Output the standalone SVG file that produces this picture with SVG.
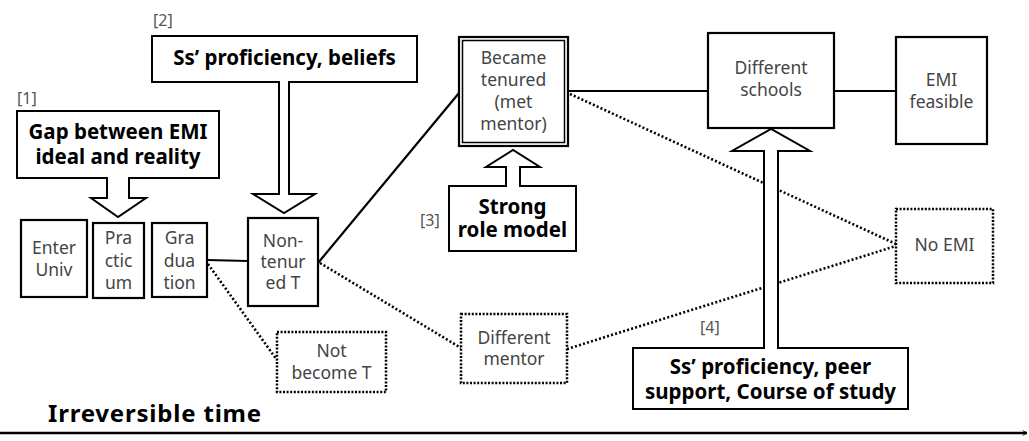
<svg xmlns="http://www.w3.org/2000/svg" width="1029" height="441" viewBox="0 0 1029 441">
<defs>
<style>
.box{fill:#fff;stroke:#000;stroke-width:2.2}
.dbox{fill:#fff;stroke:#000;stroke-width:2.5;stroke-dasharray:2 1.6}
.ln{fill:none;stroke:#000;stroke-width:2.2}
.dl{fill:none;stroke:#000;stroke-width:2.6;stroke-dasharray:2 2.2}
.blk{fill:#fff;stroke:#000;stroke-width:2}
.t{font-family:"Noto Sans","Liberation Sans",sans-serif;font-size:17.5px;fill:#444;text-anchor:middle}
.b{font-family:"Noto Sans","Liberation Sans",sans-serif;font-size:20.5px;fill:#000;text-anchor:middle;font-weight:bold}
.lab{font-family:"Noto Sans","Liberation Sans",sans-serif;font-size:16px;fill:#555}
</style>
<marker id="chev" viewBox="0 0 10 10" refX="9" refY="5" markerWidth="6" markerHeight="6" orient="auto" markerUnits="userSpaceOnUse">
<path d="M2,1 L9,5 L2,9" fill="none" stroke="#000" stroke-width="1.5"/>
</marker>
</defs>
<rect width="1029" height="441" fill="#fff"/>

<g id="connectors">
<line class="ln" x1="207" y1="260" x2="248" y2="261"/>
<line class="ln" x1="318" y1="263" x2="459" y2="93"/>
<line class="ln" x1="568" y1="91" x2="708" y2="91"/>
<line class="ln" x1="834" y1="91" x2="896" y2="91"/>
<line class="dl" x1="208" y1="264" x2="277" y2="360"/>
<line class="dl" x1="320" y1="263" x2="461" y2="348"/>
<line class="dl" x1="570" y1="94" x2="896" y2="244"/>
<line class="dl" x1="567" y1="349" x2="896" y2="246"/>
</g>

<g id="n-enter"><rect class="box" x="21" y="220" width="66" height="77"/>
<text class="t" x="54" y="254">Enter</text><text class="t" x="54" y="276">Univ</text></g>
<g id="n-practicum"><rect class="box" x="93" y="223" width="51" height="75"/>
<text class="t" x="118.5" y="244">Pra</text><text class="t" x="118.5" y="267">ctic</text><text class="t" x="118.5" y="289">um</text></g>
<g id="n-graduation"><rect class="box" x="152" y="223" width="55" height="74"/>
<text class="t" x="179.5" y="244">Gra</text><text class="t" x="179.5" y="267">dua</text><text class="t" x="179.5" y="289">tion</text></g>
<g id="n-nontenured"><rect class="box" x="248" y="218" width="70" height="88"/>
<text class="t" x="283" y="247">Non-</text><text class="t" x="283" y="268">tenur</text><text class="t" x="283" y="289">ed T</text></g>
<g id="n-tenured"><rect class="box" x="459" y="37" width="109" height="109"/>
<rect fill="none" stroke="#000" stroke-width="1.5" x="462.5" y="40.5" width="102" height="102"/>
<text class="t" x="513.5" y="64">Became</text><text class="t" x="513.5" y="86">tenured</text><text class="t" x="513.5" y="108">(met</text><text class="t" x="513.5" y="130">mentor)</text></g>
<g id="n-schools"><rect class="box" x="708" y="33" width="126" height="95"/>
<text class="t" x="771" y="74">Different</text><text class="t" x="771" y="96">schools</text></g>
<g id="n-feasible"><rect class="box" x="896" y="37" width="91" height="107"/>
<text class="t" x="941.5" y="86">EMI</text><text class="t" x="941.5" y="108">feasible</text></g>
<g id="n-noemi"><rect class="dbox" x="896" y="209" width="97" height="74"/>
<text class="t" x="944.5" y="251">No EMI</text></g>
<g id="n-mentor"><rect class="dbox" x="461" y="314" width="106" height="69"/>
<text class="t" x="514" y="344">Different</text><text class="t" x="514" y="365">mentor</text></g>
<g id="n-notbecome"><rect class="dbox" x="277" y="332" width="109" height="60"/>
<text class="t" x="331.5" y="357">Not</text><text class="t" x="331.5" y="379">become T</text></g>

<g id="f1">
<path class="blk" d="M17,111 H219 V178 H129 V198 H146 L118,217 L91,198 H107 V178 H17 Z"/>
<text class="b" x="118" y="139">Gap between EMI</text>
<text class="b" x="118" y="164">ideal and reality</text>
<text class="lab" x="17" y="104">[1]</text>
</g>
<g id="f2">
<path class="blk" d="M152,36 H417 V82 H289 V194 H315 L284,213 L253,194 H279 V82 H152 Z"/>
<text class="b" x="284.5" y="65">Ss’ proficiency, beliefs</text>
<text class="lab" x="153" y="26">[2]</text>
</g>
<g id="f3">
<path class="blk" d="M449,186 H506 V167 H486 L513,150 L540,167 H520 V186 H576 V251 H449 Z"/>
<text class="b" x="512.5" y="214">Strong</text>
<text class="b" x="512.5" y="237">role model</text>
<text class="lab" x="420" y="226">[3]</text>
</g>
<g id="f4">
<path class="blk" d="M633,348 H764 V151 H732 L771,129 L810,151 H778 V348 H908 V409 H633 Z"/>
<text class="b" x="770.5" y="374">Ss’ proficiency, peer</text>
<text class="b" x="770.5" y="399">support, Course of study</text>
<text class="lab" x="700" y="333">[4]</text>
</g>

<g id="timeline">
<text x="48" y="422" style="font-family:'Noto Sans','Liberation Sans',sans-serif;font-size:24px;font-weight:bold;fill:#000;letter-spacing:0.8px">Irreversible time</text>
<line x1="0" y1="433" x2="1027" y2="433" stroke="#000" stroke-width="2.5" marker-end="url(#chev)"/>
</g>
</svg>
